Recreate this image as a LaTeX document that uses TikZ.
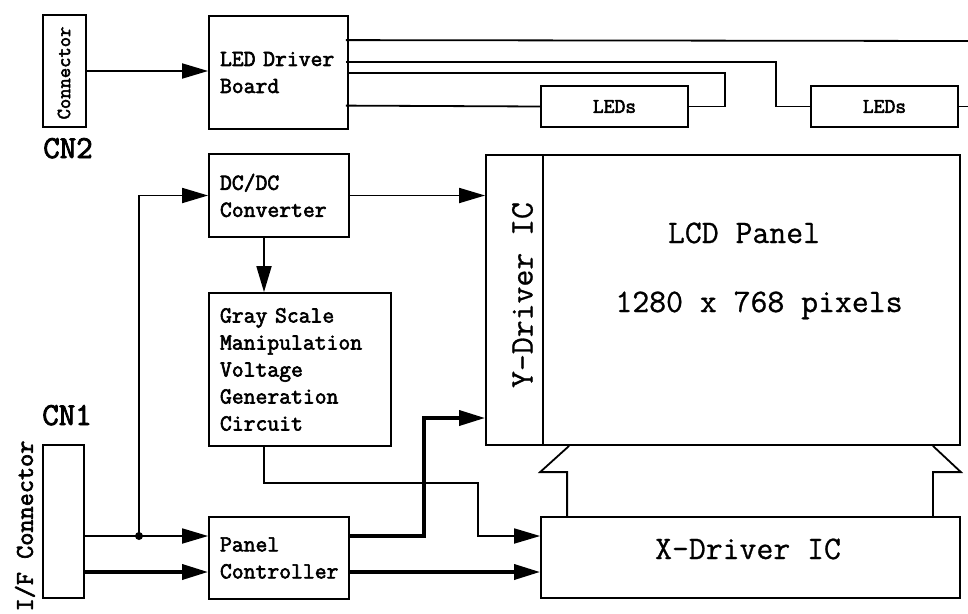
\documentclass[tikz,border=0pt]{standalone}
\usepackage{fontspec}
\newfontfamily\mono[FakeBold=0.8]{Latin Modern Mono}
\newfontfamily\monob[FakeBold=2.6]{Latin Modern Mono}
\usetikzlibrary{arrows.meta,positioning,calc}

\begin{document}
\begin{tikzpicture}[x=1pt,y=-1pt,line width=1.8pt,>={Triangle[length=26pt,width=15pt]},
  blk/.style={draw,align=left,inner xsep=11pt,font=\monob\fontsize{23}{27}\selectfont},
  ledbox/.style={draw,minimum width=147pt,minimum height=41pt,font=\monob\fontsize{21}{21}\selectfont},
  bigtxt/.style={font=\mono\fontsize{32.8}{36}\selectfont},
  cnlbl/.style={anchor=base,font=\monob\fontsize{32}{32}\selectfont},
  thk/.style={line width=3.6pt}]
\useasboundingbox (0,0) rectangle (968,613);
% LED side
\node[draw,minimum width=43pt,minimum height=112pt] (cn2) at (64.5,71) {};
\node[rotate=90,font=\monob\fontsize{20}{20}\selectfont] (cn2txt) at (64,73) {Connector};
\node[cnlbl] (cn2lbl) at (68,158) {CN2};
\node[blk,text width=117pt,minimum height=113pt] (led) at (278.5,72.5) {LED~Driver\\Board};
\node[ledbox] (ledsa) at (614.5,106.5) {LEDs};
\node[ledbox] (ledsb) at (884.5,106.5) {LEDs};
\coordinate (outa) at (968,41);
\coordinate (outb) at (968,106.5);
% power and panel side
\node[blk,text width=118pt,minimum height=83pt] (dcdc) at (279,195.5) {DC/DC\\Converter};
\node[blk,text width=160pt,minimum height=153pt] (gsv) at (300,369.5) {Gray Scale\\Manipulation\\Voltage\\Generation\\Circuit};
\node[blk,text width=118pt,minimum height=82pt] (pctl) at (279,558) {Panel\\Controller};
\node[draw,minimum width=41pt,minimum height=153pt] (cn1) at (63.5,521.5) {};
\node[cnlbl] (cn1lbl) at (67,425) {CN1};
\node[rotate=90,font=\monob\fontsize{25.5}{26}\selectfont] (iflbl) at (25,526) {I/F Connector};
\node[draw,minimum width=57pt,minimum height=290pt] (ydrv) at (514.5,300) {};
\node[rotate=90,bigtxt] (ydrvtxt) at (522.5,295) {Y-Driver IC};
\node[draw,minimum width=417pt,minimum height=290pt] (lcd) at (751.5,300) {};
\node[bigtxt,anchor=base] (lcdname) at (744,243) {LCD Panel};
\node[bigtxt,anchor=base] (lcdres) at (759,312) {1280 x 768 pixels};
\node[draw,minimum width=419pt,minimum height=81pt] (xdrv) at (750.5,557.5) {};
\node[bigtxt,anchor=base] (xdrvtxt) at (748,559) {X-Driver IC};

% LED wiring
\draw[->] (cn2.east) -- (cn2.east -| led.west);
\draw ($(led.north east)+(-3,25)$) -- (outa);
\draw ($(led.north east)+(-3,47)$) -| ($(ledsb.west)+(-34,0)$) -- (ledsb.west);
\draw ($(led.north east)+(0,58)$) -| ($(ledsa.east)+(36,0)$) -- (ledsa.east);
\draw ($(led.north east)+(-3,90.5)$) -- (ledsa.west);
\draw (ledsb.east) -- (outb);

% signals
\coordinate (pin) at ($(pctl.west)+(0,-22)$);
\coordinate (tap) at (139,536);
\draw[->] (cn1.east |- pin) -- (pin);
\fill (tap) circle (4pt);
\draw[->] (tap) |- (dcdc.west);
\draw[->,thk] ($(cn1.east |- pctl.west)+(0,14)$) -- ($(pctl.west)+(0,14)$);
\draw[->] (dcdc.east) -- (dcdc.east -| ydrv.west);
\draw[->] ([xshift=-15pt]dcdc.south) -- ([xshift=-15pt]dcdc.south |- gsv.north);
\coordinate (xin) at ($(xdrv.west)+(0,-21.5)$);
\draw[->] ([xshift=-36pt]gsv.south) -- ++(0,36) -| ($(xin)+(-62,0)$) -- (xin);
\draw[->,thk] ($(pctl.east)+(0,-22)$) -- ++(74,0) |- ($(ydrv.west)+(0,118)$);
\coordinate (pout) at ($(pctl.east)+(0,14)$);
\draw[->,thk] (pout) -- (pout -| xdrv.west);

% flex between X-driver and panel
\draw ([xshift=27pt]xdrv.north west) -- ++(0,-44) -- ++(-27,0) -- ([xshift=27pt]lcd.south west);
\draw ([xshift=-28pt]xdrv.north east) -- ++(0,-44) -- ++(28,0) -- ([xshift=-28pt]lcd.south east);
\end{tikzpicture}
\end{document}
